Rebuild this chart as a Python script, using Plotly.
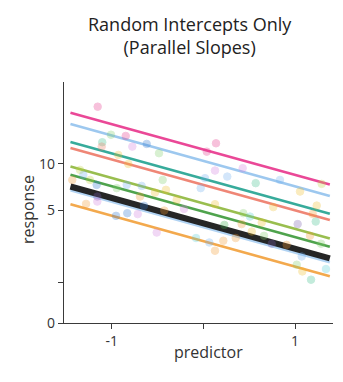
import numpy as np
import plotly.graph_objects as go

# ---- model: sqrt(response) = sqrt(intercept_g) + slope * predictor ----
group_names = ["pink", "sky", "teal", "salmon", "olive", "green", "sky2", "orange"]
group_intercepts = [11.88, 10.38, 8.21, 7.53, 5.64, 4.90, 3.63, 2.64]   # response at predictor = 0
group_colors = ["#e8358c", "#93c3ee", "#22a391", "#ee7a68", "#8fb83c", "#3d9a3a", "#a9cff2", "#f2a03a"]
population_intercept = 3.92
common_slope = -0.505          # on the sqrt(response) scale
line_span = [-1.45, 1.38]

# ---- observed points ----
predictor = [-1.153, -1.008, -0.847, -1.103, -1.109, -0.775, -0.618, -0.484, -0.928, -0.819,
             -1.346, -1.310, -1.430, -1.237, -1.164, -0.444, -0.945, -0.836, -0.673, -0.408,
             -0.691, -0.528, -0.291, -1.157, -1.157, -1.280, -0.648, -0.426, -0.211, -0.953,
             -0.830, -0.716, -0.509, -0.080,
             0.138, 0.037, 0.127, 0.429, 0.261, 0.018, -0.029, 0.571, 0.836, 1.055,
             1.291, 0.127, 0.763, 1.237, 1.193, 0.436, 0.509, 0.418, 0.229, 0.637,
             1.029, 1.226, 0.528, 0.353, 0.662, 0.218, 0.909, 0.746, 1.164, 1.284,
             0.065, 0.127, 1.073, 1.019, 1.080, 1.175, 1.338]
response = [18.47, 13.99, 13.81, 12.90, 12.28, 12.28, 12.66, 11.38, 11.15, 9.99,
            9.25, 8.66, 8.08, 8.08, 7.53, 8.08, 7.18, 7.53, 7.42, 7.00,
            6.31, 6.71, 5.98, 6.31, 5.82, 5.60, 5.42, 4.99, 5.14, 4.53,
            4.76, 4.68, 3.23, 2.85,
            12.75, 11.59, 9.17, 9.46, 8.46, 8.28, 7.18, 7.72, 8.08, 6.82,
            7.64, 5.57, 5.30, 5.44, 4.70, 4.76, 4.47, 3.86, 3.80, 3.98,
            3.86, 4.06, 3.30, 2.85, 3.00, 2.67, 2.41, 2.48, 3.00, 2.48,
            2.56, 2.06, 1.75, 1.34, 1.05, 0.74, 1.15]
point_kind = ["pink", "lgreen", "pink", "mint", "salmon", "lilac", "blue", "lgreen", "yellow", "yellow",
              "ygreen", "lblue", "orange", "ygreen", "blue", "lgreen", "lgreen", "lblue", "lblue", "yellow",
              "orange", "yellow", "yellow", "purple", "lilac", "orange", "blue", "orange", "lilac", "blue",
              "blue", "lilac", "lilac", "cyan",
              "pink", "pink", "lilac", "lilac", "lblue", "lblue", "lblue", "mint", "lblue", "yellow",
              "ygreen", "yellow", "yellow", "yellow", "orange", "lgreen", "cyan", "orange", "green", "yellow",
              "purple", "mint", "yellow", "orange", "lgreen", "orange", "orange", "purple", "orange", "lgreen",
              "lblue", "orange", "lblue", "lgreen", "yellow", "mint", "cyan"]
kind_colors = {"pink": "#e8358c", "lgreen": "#7fcf6a", "mint": "#3cbf8c", "salmon": "#f07e62",
               "lilac": "#d27fe0", "blue": "#2f77d0", "yellow": "#f0bf2a", "ygreen": "#c2d640",
               "lblue": "#6fb0f0", "orange": "#f59a30", "purple": "#7a5fb0", "cyan": "#55d0d6",
               "green": "#35ab45"}

# ---- axis ticks ----
x_tick_vals = [-1, 0, 1]
x_tick_text = ["-1", "", "1"]
y_tick_vals = [0, 0.65, 5, 10]
y_tick_text = ["0", "", "5", "10"]

FONT = "Open Sans"
INK = "#333333"

def to_axis(v):
    return np.sqrt(np.asarray(v, dtype=float))

fig = go.Figure()

xs = np.array(line_span)
for name, icpt, col in zip(group_names, group_intercepts, group_colors):
    fig.add_trace(go.Scatter(x=xs, y=np.sqrt(icpt) + common_slope * xs, mode="lines",
                             line=dict(color=col, width=2.6), opacity=0.9,
                             name=name, showlegend=False, hoverinfo="skip"))

fig.add_trace(go.Scatter(x=xs, y=np.sqrt(population_intercept) + common_slope * xs, mode="lines",
                         line=dict(color="#141414", width=6), opacity=0.92,
                         name="population", showlegend=False, hoverinfo="skip"))

fig.add_trace(go.Scatter(
    x=predictor, y=to_axis(response), mode="markers", showlegend=False,
    marker=dict(size=7.5, color=[kind_colors[k] for k in point_kind], opacity=0.3,
                line=dict(width=1, color=[kind_colors[k] for k in point_kind])),
))

fig.update_layout(
    width=343, height=382,
    margin=dict(l=64, r=10, t=82, b=59),
    paper_bgcolor="white", plot_bgcolor="white",
    font=dict(family=FONT, color=INK, size=14),
    xaxis=dict(range=[-1.5205, 1.4146], showgrid=False, zeroline=False,
               showline=True, linecolor="#3a3a3a", linewidth=1.3,
               ticks="outside", ticklen=5, tickcolor="#3a3a3a",
               tickvals=x_tick_vals, ticktext=x_tick_text,
               tickfont=dict(size=14, color=INK)),
    yaxis=dict(range=[0, 4.788], showgrid=False, zeroline=False,
               showline=True, linecolor="#3a3a3a", linewidth=1.3,
               ticks="outside", ticklen=5, tickcolor="#3a3a3a",
               tickvals=list(to_axis(y_tick_vals)), ticktext=y_tick_text,
               tickfont=dict(size=14, color=INK)),
    annotations=[
        dict(text="Random Intercepts Only<br>(Parallel Slopes)", xref="paper", yref="paper",
             x=(190 - 64) / 269, y=1 + (82 - 10) / 241, xanchor="center", yanchor="top",
             showarrow=False, font=dict(size=18, color="#222222", family=FONT)),
        dict(text="predictor", xref="paper", yref="paper",
             x=(208 - 64) / 269, y=-(352 - 323) / 241, xanchor="center", yanchor="middle",
             showarrow=False, font=dict(size=16, color=INK, family=FONT)),
        dict(text="response", xref="paper", yref="paper", textangle=-90,
             x=-(64 - 28) / 269, y=(323 - 210) / 241, xanchor="center", yanchor="middle",
             showarrow=False, font=dict(size=16, color=INK, family=FONT)),
    ],
)

fig.write_html("out.html")
